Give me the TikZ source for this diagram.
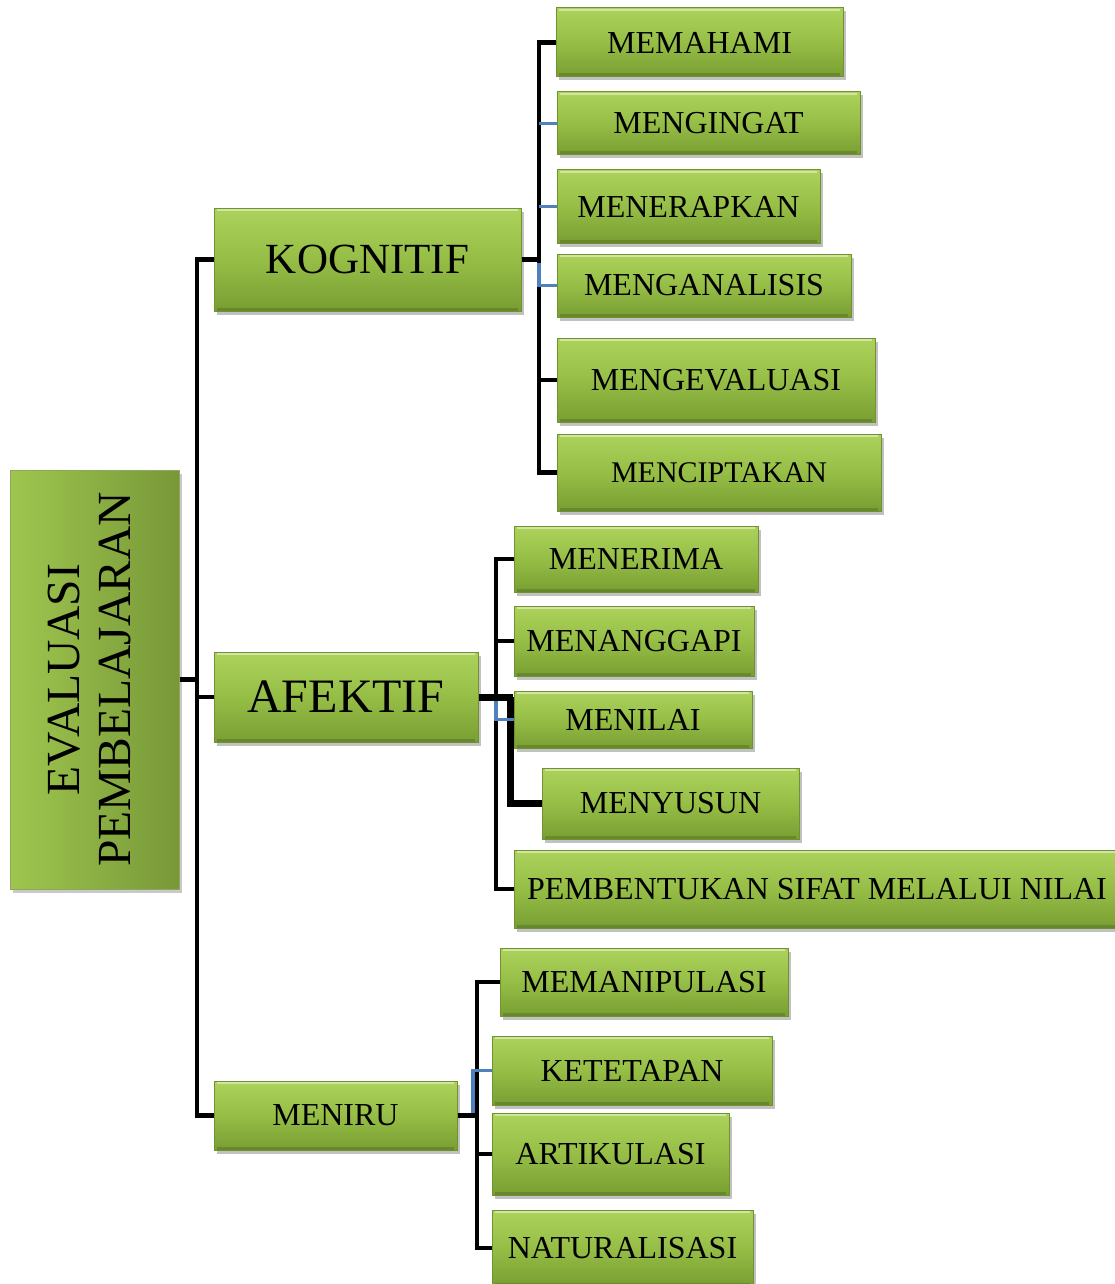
\documentclass[tikz,border=0pt]{standalone}
\usepackage{fontspec}
\setmainfont{Liberation Serif}
\usetikzlibrary{shadows}
\definecolor{gtop}{RGB}{172,210,92}
\definecolor{gmid}{RGB}{150,190,70}
\definecolor{gbot}{RGB}{120,158,50}
\definecolor{gline}{RGB}{112,146,48}
\definecolor{rleft}{RGB}{158,198,78}
\definecolor{rright}{RGB}{120,152,56}
\definecolor{bl}{RGB}{79,129,189}
\tikzset{
  box/.style={draw=gline, line width=1pt, top color=gtop, bottom color=gbot, middle color=gmid,
    drop shadow={shadow xshift=2.5pt, shadow yshift=-3.5pt, opacity=0.35, fill=black!70},
    inner sep=0pt, text=black, font=\fontsize{32}{32}\selectfont,
    path picture={\draw[white, opacity=0.45, line width=2pt]
      ([xshift=3pt,yshift=-2pt]path picture bounding box.north west) --
      ([xshift=-3pt,yshift=-2pt]path picture bounding box.north east);
      \draw[black, opacity=0.15, line width=3pt]
      ([xshift=3pt,yshift=2pt]path picture bounding box.south west) --
      ([xshift=-3pt,yshift=2pt]path picture bounding box.south east);}},
  rootbox/.style={draw=gline!80, line width=1pt, left color=rleft, right color=rright,
    drop shadow={shadow xshift=2.5pt, shadow yshift=-3.5pt, opacity=0.3, fill=black!70},
    inner sep=0pt, text=black},
  conn/.style={line width=4.8pt, black},
  thickconn/.style={line width=7pt, black},
  blueconn/.style={line width=3.5pt, bl}
}
\begin{document}
\begin{tikzpicture}[x=1pt,y=-1pt]
\useasboundingbox (0,0) rectangle (1114,1284);
% bus coordinates
\coordinate (busA) at (197,0);
\coordinate (busK) at (539,0);
\coordinate (busF) at (496,0);
\coordinate (busF2) at (510,0);
\coordinate (busM) at (477,0);
\coordinate (blM) at (473,0);

% root
\node[rootbox, minimum width=169pt, minimum height=419pt] (root) at (94.5,679.5)
  {\rotatebox{90}{\fontsize{47.5}{51}\selectfont\begin{tabular}{@{}c@{}}EVALUASI\\PEMBELAJARAN\end{tabular}}};

% level 1
\node[box, minimum width=307pt, minimum height=103pt, font=\fontsize{43}{43}\selectfont] (kog) at (367.5,259.5) {KOGNITIF};
\node[box, minimum width=264pt, minimum height=90pt, font=\fontsize{48}{48}\selectfont] (afe) at (346,697) {AFEKTIF};
\node[box, minimum width=243pt, minimum height=69pt] (mnr) at (335.5,1115.5) {MENIRU};

% kognitif children
\node[box, minimum width=287pt, minimum height=69pt] (k1) at (699.5,42.5) {MEMAHAMI};
\node[box, minimum width=303pt, minimum height=63pt] (k2) at (708.5,123.5) {MENGINGAT};
\node[box, minimum width=263pt, minimum height=73pt] (k3) at (688.5,206.5) {MENERAPKAN};
\node[box, minimum width=294pt, minimum height=63pt] (k4) at (704,285.5) {MENGANALISIS};
\node[box, minimum width=318pt, minimum height=84pt] (k5) at (716,380) {MENGEVALUASI};
\node[box, minimum width=324pt, minimum height=77pt, font=\fontsize{30}{30}\selectfont] (k6) at (719,472.5) {MENCIPTAKAN};

% afektif children
\node[box, minimum width=244pt, minimum height=66pt] (a1) at (636,559) {MENERIMA};
\node[box, minimum width=240pt, minimum height=70pt] (a2) at (634,641) {MENANGGAPI};
\node[box, minimum width=238pt, minimum height=57pt] (a3) at (633,719.5) {MENILAI};
\node[box, minimum width=257pt, minimum height=71pt] (a4) at (670.5,803.5) {MENYUSUN};
\node[box, minimum width=606pt, minimum height=78pt] (a5) at (817,889) {PEMBENTUKAN SIFAT MELALUI NILAI};

% meniru children
\node[box, minimum width=288pt, minimum height=68pt] (m1) at (644,982) {MEMANIPULASI};
\node[box, minimum width=280pt, minimum height=69pt] (m2) at (632,1070.5) {KETETAPAN};
\node[box, minimum width=237pt, minimum height=82pt] (m3) at (610.5,1154) {ARTIKULASI};
\node[box, minimum width=261pt, minimum height=76pt] (m4) at (622.5,1248) {NATURALISASI};

% level-1 connectors
\draw[conn] (kog.west) -- (busA |- kog.west) -- (busA |- mnr.west) -- (mnr.west);
\draw[conn] (root.east) -- (busA |- root.east);
\draw[conn] (busA |- afe.west) -- (afe.west);

% kognitif connectors
\draw[conn] (kog.east) -- (busK |- kog.east);
\draw[conn] (k1.west) -- (busK |- k1.west) -- (busK |- k6.west) -- (k6.west);
\draw[conn] (busK |- k5.west) -- (k5.west);
\draw[blueconn] (busK |- k2.west) -- (k2.west);
\draw[blueconn] (busK |- k3.west) -- (k3.west);
\draw[blueconn] ([yshift=-3pt]busK |- kog.east) -- (busK |- k4.west) -- (k4.west);

% afektif connectors
\draw[conn] (a1.west) -- (busF |- a1.west) -- (busF |- a5.west) -- (a5.west);
\draw[conn] (busF |- a2.west) -- (a2.west);
\draw[thickconn] (afe.east) -- ([xshift=3pt]busF2 |- afe.east);
\draw[thickconn] (busF2 |- afe.east) -- (busF2 |- a4.west) -- (a4.west);
\draw[blueconn] ([yshift=-4pt]busF |- afe.east) -- (busF |- a3.west) -- (a3.west);

% meniru connectors
\draw[conn] (mnr.east) -- (busM |- mnr.east);
\draw[conn] (m1.west) -- (busM |- m1.west) -- (busM |- m4.west) -- (m4.west);
\draw[conn] (busM |- m3.west) -- (m3.west);
\draw[blueconn] ([yshift=3pt]blM |- mnr.east) -- (blM |- m2.west) -- (m2.west);
\end{tikzpicture}
\end{document}
